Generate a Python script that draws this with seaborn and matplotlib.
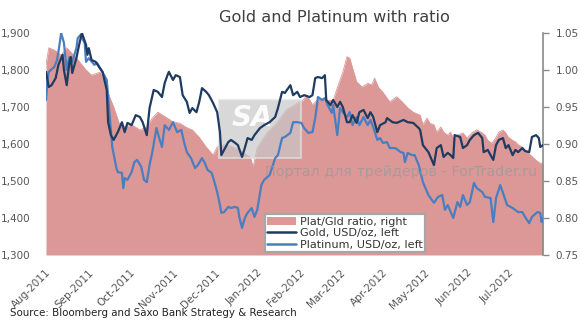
import numpy as np
import pandas as pd
import matplotlib
matplotlib.use("Agg")
import matplotlib.pyplot as plt
import matplotlib.dates as mdates
from matplotlib.patches import Patch, Rectangle
from matplotlib.lines import Line2D
from matplotlib.ticker import FuncFormatter, FixedLocator
import seaborn as sns

# ---------------- data ----------------
start_date = "2011-08-01"
end_day = 360

gold_day = [0, 2, 4, 7, 9, 12, 13, 15, 17, 18, 19, 22, 24, 26, 29, 30, 31, 33, 36, 39,
            41, 44, 45, 47, 49, 52, 55, 57, 59, 62, 65, 68, 70, 73, 75, 78, 81, 84, 86, 88,
            89, 92, 94, 97, 99, 102, 104, 106, 109, 111, 113, 116, 118, 121, 124, 126, 127, 129, 132, 134,
            137, 139, 142, 144, 146, 149, 151, 155, 158, 162, 166, 168, 171, 173, 177, 179, 182, 184, 187, 191,
            193, 195, 197, 200, 202, 203, 206, 208, 211, 213, 215, 218, 220, 222, 225, 227, 230, 233, 235, 237,
            240, 242, 246, 247, 251, 254, 259, 262, 266, 270, 271, 273, 277, 281, 283, 286, 288, 291, 293, 295,
            296, 300, 302, 305, 307, 310, 313, 316, 317, 320, 322, 324, 326, 328, 331, 333, 335, 338, 340, 342,
            345, 347, 350, 352, 355, 357, 358, 360]
gold_usd = [1795, 1754, 1759, 1778, 1814, 1841, 1800, 1759, 1822, 1835, 1792, 1832, 1868, 1900, 1868, 1841, 1859, 1827, 1822, 1805,
            1795, 1746, 1659, 1624, 1611, 1632, 1659, 1632, 1657, 1651, 1678, 1673, 1659, 1624, 1697, 1746, 1741, 1727, 1765, 1786,
            1795, 1773, 1786, 1781, 1732, 1714, 1684, 1697, 1686, 1714, 1751, 1741, 1732, 1711, 1686, 1632, 1570, 1584, 1605, 1611,
            1603, 1597, 1565, 1589, 1616, 1611, 1624, 1643, 1651, 1659, 1673, 1697, 1741, 1738, 1759, 1732, 1741, 1727, 1732, 1727,
            1732, 1778, 1781, 1778, 1786, 1719, 1705, 1719, 1700, 1714, 1700, 1659, 1659, 1678, 1657, 1686, 1692, 1670, 1686, 1673,
            1632, 1651, 1659, 1670, 1659, 1657, 1665, 1659, 1657, 1643, 1638, 1597, 1578, 1543, 1589, 1597, 1565, 1576, 1570, 1562,
            1624, 1619, 1589, 1597, 1611, 1624, 1630, 1616, 1578, 1584, 1570, 1557, 1597, 1611, 1616, 1589, 1597, 1570, 1584, 1578,
            1589, 1581, 1578, 1619, 1624, 1616, 1592, 1597]

plat_day = [0, 1, 2, 6, 8, 9, 11, 13, 15, 17, 19, 22, 23, 25, 28, 29, 31, 35, 37, 40,
            44, 46, 48, 51, 52, 55, 56, 57, 59, 62, 64, 66, 69, 71, 73, 75, 77, 80, 82, 84,
            86, 89, 92, 95, 98, 100, 102, 105, 108, 110, 113, 115, 117, 120, 122, 124, 126, 127, 129, 132,
            134, 137, 139, 140, 142, 144, 146, 149, 151, 153, 156, 158, 162, 166, 168, 171, 173, 177, 179, 182,
            185, 187, 190, 193, 195, 196, 197, 200, 202, 204, 207, 208, 211, 213, 215, 218, 220, 222, 225, 227,
            230, 233, 235, 237, 240, 242, 244, 247, 249, 253, 257, 259, 260, 262, 265, 267, 270, 273, 277, 281,
            284, 287, 289, 291, 295, 298, 300, 302, 305, 307, 310, 312, 316, 318, 322, 324, 326, 329, 331, 334,
            338, 342, 345, 347, 350, 352, 356, 358, 359, 360]
plat_usd = [1719, 1768, 1795, 1808, 1827, 1849, 1900, 1873, 1800, 1835, 1822, 1859, 1886, 1895, 1873, 1822, 1832, 1814, 1819, 1800,
            1773, 1684, 1592, 1535, 1524, 1522, 1481, 1508, 1503, 1524, 1551, 1557, 1538, 1503, 1497, 1543, 1578, 1643, 1616, 1592,
            1651, 1638, 1659, 1632, 1638, 1605, 1578, 1562, 1535, 1543, 1562, 1549, 1530, 1522, 1497, 1470, 1435, 1414, 1416, 1430,
            1427, 1430, 1427, 1403, 1373, 1400, 1414, 1427, 1403, 1422, 1489, 1503, 1516, 1562, 1570, 1616, 1619, 1630, 1659, 1659,
            1657, 1643, 1630, 1632, 1670, 1697, 1727, 1719, 1724, 1705, 1684, 1705, 1624, 1697, 1686, 1673, 1686, 1651, 1673, 1651,
            1673, 1651, 1665, 1646, 1611, 1616, 1603, 1605, 1589, 1589, 1578, 1576, 1551, 1576, 1570, 1570, 1543, 1497, 1462, 1441,
            1457, 1462, 1422, 1435, 1400, 1443, 1430, 1462, 1435, 1443, 1495, 1481, 1470, 1457, 1454, 1389, 1454, 1489, 1468, 1435,
            1427, 1416, 1416, 1403, 1386, 1403, 1416, 1414, 1389, 1400]

ratio_day = [0, 2, 6, 11, 15, 18, 23, 29, 33, 39, 42, 46, 49, 53, 58, 62, 68, 73, 77, 81,
             87, 92, 97, 102, 106, 111, 116, 121, 124, 129, 134, 140, 148, 150, 153, 160, 167, 174, 182, 186,
             189, 193, 198, 203, 208, 211, 215, 218, 220, 222, 225, 229, 233, 236, 238, 241, 244, 249, 254, 258,
             262, 266, 271, 273, 276, 278, 281, 283, 286, 288, 291, 293, 295, 298, 302, 305, 309, 312, 316, 318,
             320, 323, 326, 328, 331, 333, 335, 338, 340, 342, 345, 347, 351, 355, 358, 360]
ratio_val = [1.007, 1.030, 1.027, 1.020, 1.030, 1.024, 1.014, 1.000, 0.993, 0.997, 0.989, 0.964, 0.950, 0.928, 0.923, 0.926, 0.919, 0.923, 0.935, 0.943,
             0.936, 0.930, 0.928, 0.922, 0.919, 0.909, 0.896, 0.885, 0.896, 0.899, 0.897, 0.892, 0.882, 0.869, 0.895, 0.915, 0.928, 0.946, 0.955, 0.959,
             0.966, 0.953, 0.962, 0.959, 0.959, 0.976, 0.997, 1.018, 1.016, 1.003, 0.984, 0.977, 0.982, 0.980, 0.989, 0.976, 0.970, 0.957, 0.964, 0.957,
             0.949, 0.943, 0.939, 0.926, 0.935, 0.928, 0.926, 0.916, 0.923, 0.916, 0.912, 0.916, 0.908, 0.912, 0.915, 0.908, 0.916, 0.919, 0.915, 0.912,
             0.905, 0.901, 0.909, 0.916, 0.919, 0.915, 0.909, 0.905, 0.903, 0.899, 0.896, 0.892, 0.885, 0.878, 0.874, 0.874]

left_ticks = [1300, 1400, 1500, 1600, 1700, 1800, 1900]
right_ticks = [0.75, 0.80, 0.85, 0.90, 0.95, 1.00, 1.05]
legend_labels = ["Plat/Gld ratio, right", "Gold, USD/oz, left", "Platinum, USD/oz, left"]
title_text = "Gold and Platinum with ratio"
source_text = "Source: Bloomberg and Saxo Bank Strategy & Research"
watermark_text = "Портал для трейдеров - ForTrader.ru"

assert len(gold_day) == len(gold_usd)
assert len(plat_day) == len(plat_usd)
assert len(ratio_day) == len(ratio_val)

t0 = pd.Timestamp(start_date)
gold_df = pd.DataFrame({"date": t0 + pd.to_timedelta(gold_day, unit="D"), "v": gold_usd})
plat_df = pd.DataFrame({"date": t0 + pd.to_timedelta(plat_day, unit="D"), "v": plat_usd})
ratio_df = pd.DataFrame({"date": t0 + pd.to_timedelta(ratio_day, unit="D"), "v": ratio_val})

# ---------------- style ----------------
PINK = "#DB9896"
NAVY = "#1F3B62"
BLUE = "#4A7EC0"
TXT = "#555555"

sns.set_theme(style="white")
plt.rcParams["font.family"] = ["DejaVu Sans"]

fig = plt.figure(figsize=(5.8, 3.25), dpi=100, facecolor="white")
ax = fig.add_axes([46 / 580, 1 - 255 / 325, 497 / 580, 222 / 325])
ax2 = ax.twinx()
ax.set_zorder(ax2.get_zorder() + 1)
ax.patch.set_visible(False)

# ratio area on right axis
sns.lineplot(data=ratio_df, x="date", y="v", ax=ax2, color=PINK, linewidth=0.6,
             estimator=None, sort=False, legend=False)
ax2.fill_between(ratio_df["date"], ratio_df["v"], 0.75, color=PINK, linewidth=0, zorder=1)
# Saxo logo box (watermark)
ax2.add_patch(Rectangle(((219 - 46) / 497, (255 - 158) / 222), 82 / 497, 58 / 222,
                        transform=ax2.transAxes, facecolor="#c8c8c8", edgecolor="#e0e0e0",
                        linewidth=1.5, alpha=0.7, zorder=2))
ax2.text((232 - 46) / 497, (255 - 118) / 222, "SA", transform=ax2.transAxes, fontsize=20,
         fontstyle="italic", fontweight="bold", color="white", va="center", ha="left",
         zorder=3, alpha=0.9)

# price lines on left axis
sns.lineplot(data=plat_df, x="date", y="v", ax=ax, color=BLUE, linewidth=1.6,
             estimator=None, sort=False, legend=False)
sns.lineplot(data=gold_df, x="date", y="v", ax=ax, color=NAVY, linewidth=1.6,
             estimator=None, sort=False, legend=False)

x_end = t0 + pd.Timedelta(days=end_day)
ax.set_xlim(t0, x_end)
ax.set_ylim(1300, 1900)
ax2.set_ylim(0.75, 1.05)

ax.set_xlabel("")
ax.set_ylabel("")
ax2.set_xlabel("")
ax2.set_ylabel("")

ax.yaxis.set_major_locator(FixedLocator(left_ticks))
ax.yaxis.set_major_formatter(FuncFormatter(lambda v, p: f"{v:,.0f}"))
ax2.yaxis.set_major_locator(FixedLocator(right_ticks))
ax2.yaxis.set_major_formatter(FuncFormatter(lambda v, p: f"{v:.2f}"))

ax.xaxis.set_major_locator(mdates.MonthLocator(bymonthday=1))
ax.xaxis.set_major_formatter(mdates.DateFormatter("%b-%Y"))

for a in (ax, ax2):
    for s in a.spines.values():
        s.set_visible(False)
ax2.spines["right"].set_visible(True)
ax2.spines["right"].set_color("#8a8a8a")
ax2.spines["right"].set_linewidth(1.2)

ax.tick_params(axis="y", length=0, pad=11, labelsize=7.5, labelcolor=TXT)
ax.tick_params(axis="x", length=0, pad=9, labelsize=7.5, labelcolor=TXT)
ax2.tick_params(axis="y", length=4, width=1, color="#8a8a8a", direction="out", pad=5,
                labelsize=7.5, labelcolor=TXT)
ax2.tick_params(axis="x", length=0)
for lab in ax.get_xticklabels():
    lab.set_rotation(45)
    lab.set_ha("right")
    lab.set_va("top")
    lab.set_rotation_mode("anchor")
ax.grid(False)
ax2.grid(False)

handles = [Patch(facecolor=PINK, edgecolor="none"),
           Line2D([0], [0], color=NAVY, lw=1.8),
           Line2D([0], [0], color=BLUE, lw=1.8)]
leg = ax.legend(handles, legend_labels, loc="lower left", bbox_to_anchor=(0.44, 0.012),
                fontsize=8.1, frameon=True, fancybox=False, framealpha=1, edgecolor="#a6a6a6",
                handlelength=2.5, handletextpad=0.35, labelspacing=0.12, borderpad=0.25,
                borderaxespad=0)
leg.get_frame().set_linewidth(1.6)
for t in leg.get_texts():
    t.set_color("#333333")

fig.text(334 / 580, 1 - 18 / 325, title_text, ha="center", va="center", fontsize=11.6, color="#404040")
fig.text(10 / 580, 1 - 313 / 325, source_text, ha="left", va="center", fontsize=7.4, color="#222222")
fig.text(265 / 580, 1 - 172 / 325, watermark_text, ha="left", va="center", fontsize=10.4,
         color="#9a9a9a", alpha=0.75, zorder=10)

fig.savefig("out.png", dpi=100, facecolor="white")
